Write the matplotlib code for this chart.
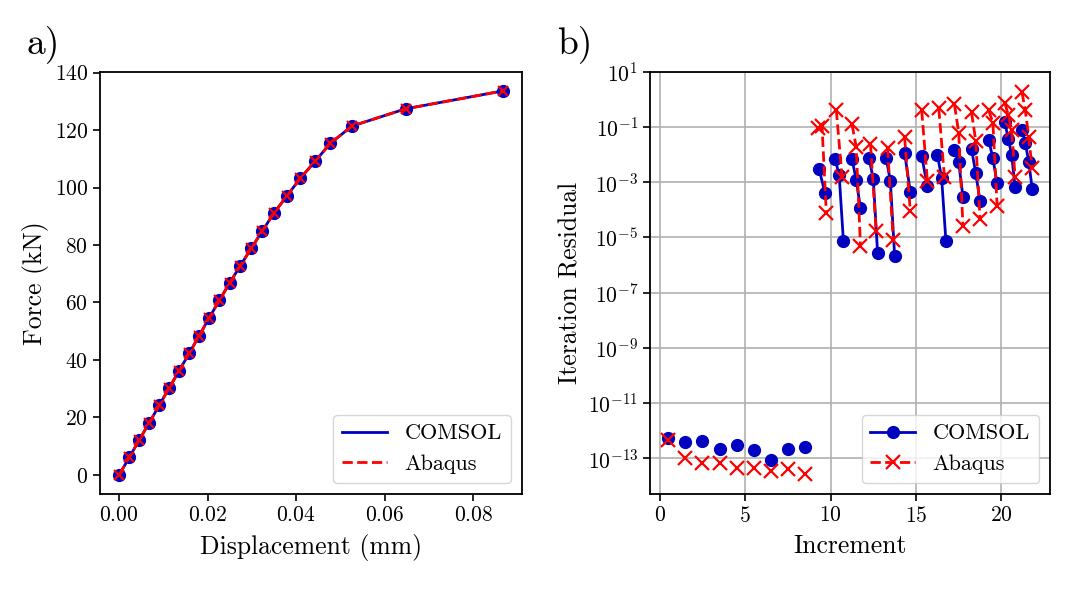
import numpy as np
import matplotlib
matplotlib.use("Agg")
import matplotlib.pyplot as plt
from matplotlib.ticker import FixedLocator, NullLocator

# --- a) force vs displacement ---
disp = [0.0, 0.00226, 0.00452, 0.00679, 0.00905, 0.0113, 0.01357, 0.01583,
        0.0181, 0.02035, 0.02262, 0.02495, 0.02737, 0.02985, 0.03234, 0.0349,
        0.0379, 0.0409, 0.0443, 0.0477, 0.0526, 0.0647, 0.0866]
force_comsol = [0.0, 6.05, 12.1, 18.15, 24.2, 30.25, 36.3, 42.35, 48.5, 54.7,
                60.7, 66.8, 72.8, 78.9, 84.9, 91.0, 97.1, 103.2, 109.2, 115.4,
                121.4, 127.4, 133.6]
force_abaqus = [0.0, 6.05, 12.1, 18.15, 24.2, 30.25, 36.3, 42.35, 48.5, 54.7,
                60.7, 66.8, 72.8, 78.9, 84.9, 91.0, 97.1, 103.2, 109.2, 115.4,
                121.4, 127.4, 133.6]

# --- b) iteration residuals, one list per increment (1..22) ---
comsol_res = [
    [5.4e-13], [3.9e-13], [4.1e-13], [2.2e-13], [3.1e-13], [2.0e-13],
    [8.3e-14], [2.2e-13], [2.6e-13],
    [2.9e-3, 4.1e-4],
    [7.2e-3, 1.9e-3, 7.4e-6],
    [7.2e-3, 1.2e-3, 1.15e-4],
    [7.6e-3, 1.26e-3, 2.8e-6],
    [7.6e-3, 1.1e-3, 2.1e-6],
    [1.15e-2, 4.5e-4],
    [8.9e-3, 7.1e-4],
    [1.0e-2, 1.45e-3, 7.6e-6],
    [1.5e-2, 5.2e-3, 2.9e-4],
    [1.6e-2, 2.1e-3, 2.0e-4],
    [3.5e-2, 7.4e-3, 9.1e-4],
    [0.148, 3.8e-2, 9.8e-3, 6.6e-4],
    [7.8e-2, 2.6e-2, 5.6e-3, 5.9e-4],
]
abaqus_res = [
    [4.4e-13], [9.8e-14], [6.6e-14], [6.5e-14], [4.3e-14], [4.5e-14],
    [3.4e-14], [3.9e-14], [2.6e-14],
    [9.5e-2, 1.05e-1, 7.4e-5],
    [0.42, 1.6e-3],
    [0.126, 1.9e-2, 4.8e-6],
    [2.5e-2, 1.66e-5],
    [1.8e-2, 7.9e-6],
    [4.2e-2, 8.9e-5],
    [0.40, 1.1e-3],
    [0.47, 1.5e-3],
    [0.66, 6.3e-2, 2.5e-5],
    [0.34, 3.1e-2, 4.5e-5],
    [0.41, 0.145, 1.4e-4],
    [0.74, 0.28, 7.6e-2, 1.6e-3],
    [1.86, 0.40, 4.4e-2, 3.2e-3],
]

plt.rcParams['font.family'] = 'serif'
plt.rcParams['font.serif'] = ['cmr10']
plt.rcParams['mathtext.fontset'] = 'cm'
plt.rcParams['axes.formatter.use_mathtext'] = True

blue = '#0000c0'
red = '#ff0000'
tick_fs = 15.5
label_fs = 18.5
leg_fs = 16

fig = plt.figure(figsize=(10.8, 5.91), dpi=100)
ax1 = fig.add_axes([0.0926, 0.164, 0.3905, 0.7145])
ax2 = fig.add_axes([0.6019, 0.164, 0.3704, 0.7145])

# a)
ax1.plot(disp, force_comsol, '-', color=blue, lw=2.0, label='COMSOL')
ax1.plot(disp, force_comsol, 'o', color=blue, ms=8.5)
ax1.plot(disp, force_abaqus, '--', color=red, lw=2.0, label='Abaqus')
ax1.plot(disp, force_abaqus, 'x', color=red, ms=7, mew=1.5)
ax1.set_xlabel('Displacement (mm)', fontsize=label_fs)
ax1.set_ylabel('Force (kN)', fontsize=label_fs)
ax1.set_xticks([0.0, 0.02, 0.04, 0.06, 0.08])
ax1.set_yticks(np.arange(0, 141, 20))
ax1.legend(loc='lower right', fontsize=leg_fs)

# b)
for k in range(len(comsol_res)):
    n = len(comsol_res[k])
    xs = [k + (j + 1) / (n + 1) for j in range(n)]
    ax2.plot(xs, comsol_res[k], '-o', color=blue, lw=2.0, ms=8.5,
             label='COMSOL' if k == 0 else '_nolegend_')
for k in range(len(abaqus_res)):
    n = len(abaqus_res[k])
    xs = [k + (j + 1) / (n + 1) for j in range(n)]
    ax2.plot(xs, abaqus_res[k], '--x', color=red, lw=2.0, ms=9.5, mew=1.6,
             label='Abaqus' if k == 0 else '_nolegend_')
ax2.set_yscale('log')
ax2.set_ylim(10 ** -14.3, 10 ** 1.0)
ax2.set_xlim(-0.57, 22.85)
ax2.yaxis.set_major_locator(FixedLocator(10.0 ** np.arange(-13, 2, 2)))
ax2.yaxis.set_minor_locator(NullLocator())
ax2.set_xticks([0, 5, 10, 15, 20])
ax2.grid(True, color='#b0b0b0', lw=1.2)
ax2.set_axisbelow(True)
ax2.set_xlabel('Increment', fontsize=label_fs, labelpad=6)
ax2.set_ylabel('Iteration Residual', fontsize=label_fs)
ax2.legend(loc='lower right', fontsize=leg_fs)

for ax in (ax1, ax2):
    ax.tick_params(labelsize=tick_fs, length=5, width=1.2)
    for s in ax.spines.values():
        s.set_linewidth(1.3)
ax1.xaxis.labelpad = 6

fig.text(26 / 1080, 1 - 53 / 591, 'a)', fontsize=27, va='baseline')
fig.text(557 / 1080, 1 - 53 / 591, 'b)', fontsize=27, va='baseline')

fig.savefig('out.png', dpi=100)
